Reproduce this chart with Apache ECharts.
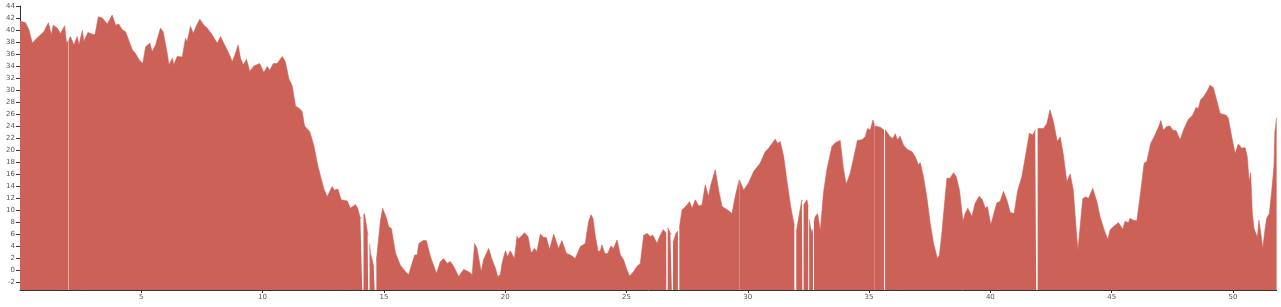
<!DOCTYPE html>
<html>
<head>
<meta charset="utf-8">
<script src="https://cdn.jsdelivr.net/npm/echarts@6/dist/echarts.min.js"></script>
<style>
html,body{margin:0;padding:0;background:#fff;}
#chart{width:1281px;height:307px;}
</style>
</head>
<body>
<div id="chart"></div>
<script>
// x positions (data units) and values; null marks a gap in the data
const xs = [
0.00,0.23,0.37,0.51,0.64,0.85,0.98,1.17,1.29,1.37,1.54,1.67,1.84,1.92,2.00,2.01,2.02,2.08,2.22,2.36,2.43,2.57,2.63,2.80,2.98,3.09,
3.23,3.39,3.60,3.80,3.94,4.07,4.22,4.35,4.63,4.76,4.90,5.06,5.18,5.35,5.45,5.59,5.66,5.79,5.90,6.07,6.14,6.28,6.34,6.48,6.69,
6.82,6.89,7.03,7.14,7.26,7.41,7.58,7.72,7.78,7.92,8.13,8.27,8.40,8.61,8.75,8.88,8.99,9.09,9.20,9.34,9.47,9.64,9.88,10.05,10.19,
10.30,10.44,10.60,10.81,10.94,11.08,11.22,11.36,11.49,11.63,11.73,11.94,12.11,12.27,12.39,12.52,12.66,12.87,12.96,13.10,13.24,
13.49,13.62,13.83,13.92,14.03,14.11,14.13,14.16,14.20,14.33,14.35,14.38,14.41,14.45,14.58,14.62,14.65,14.69,14.86,14.95,15.11,
15.20,15.31,15.48,15.68,15.89,16.02,16.16,16.27,16.37,16.44,16.51,16.62,16.75,16.92,17.17,17.33,17.47,17.61,17.74,17.88,18.08,
18.29,18.50,18.64,18.74,18.84,18.91,19.01,19.11,19.32,19.46,19.60,19.69,19.80,19.87,20.01,20.10,20.21,20.38,20.49,20.56,20.70,
20.80,20.94,21.07,21.20,21.31,21.45,21.59,21.70,21.83,22.00,22.20,22.34,22.52,22.69,22.89,23.10,23.30,23.44,23.54,23.62,23.72,
23.83,23.92,23.99,24.10,24.22,24.36,24.47,24.61,24.75,24.88,25.02,25.13,25.29,25.43,25.57,25.71,25.85,25.98,26.09,26.26,26.37,
26.51,26.64,26.67,26.70,26.81,26.87,26.89,26.92,27.04,27.12,27.15,27.18,27.29,27.49,27.60,27.70,27.84,27.97,28.11,28.25,28.38,
28.48,28.66,28.80,28.94,29.17,29.35,29.48,29.65,29.655,29.66,29.83,30.03,30.24,30.51,30.72,30.86,31.00,31.13,31.24,31.34,31.48,
31.62,31.75,31.86,31.92,31.96,32.00,32.13,32.23,32.25,32.27,32.30,32.44,32.49,32.51,32.53,32.58,32.65,32.69,32.71,32.73,32.78,
32.88,32.99,33.12,33.26,33.47,33.61,33.81,33.95,34.06,34.22,34.36,34.52,34.71,34.84,34.94,35.05,35.16,35.22,35.225,35.23,35.46,
35.62,35.64,35.66,35.74,35.87,35.98,36.08,36.17,36.28,36.42,36.58,36.77,36.90,37.04,37.11,37.24,37.38,37.52,37.66,37.82,37.90,
38.00,38.10,38.21,38.34,38.48,38.59,38.73,38.87,38.96,39.07,39.24,39.37,39.54,39.67,39.79,39.88,40.02,40.13,40.27,40.40,40.54,
40.68,40.82,40.98,41.12,41.30,41.43,41.61,41.75,41.85,41.89,41.92,41.95,42.19,42.33,42.46,42.60,42.76,42.88,43.01,43.15,43.29,
43.42,43.54,43.61,43.70,43.81,43.95,44.04,44.22,44.39,44.52,44.69,44.84,44.94,45.07,45.28,45.46,45.55,45.69,45.76,45.90,46.04,
46.17,46.34,46.45,46.61,46.79,46.97,47.03,47.13,47.27,47.41,47.52,47.66,47.82,47.99,48.16,48.34,48.48,48.57,48.67,48.78,48.92,
49.06,49.19,49.33,49.47,49.72,49.81,49.95,50.09,50.22,50.36,50.50,50.59,50.67,50.73,50.80,50.87,50.95,51.01,51.07,51.15,51.23,
51.32,51.39,51.50,51.59,51.69,51.73,51.77,51.80
];
const values = [
41.5,41.2,40.0,37.8,38.4,39.2,39.7,41.2,39.2,40.8,40.3,39.4,40.7,37.8,38.3,null,38.4,38.9,37.5,38.9,37.5,39.9,38.1,39.6,39.3,39.2,
42.2,42.0,41.0,42.5,40.8,41.0,40.0,39.7,36.7,36.1,35.1,34.4,37.2,37.8,36.4,37.5,37.8,40.3,39.7,36.1,34.2,35.3,34.2,35.6,35.5,
38.6,38.1,40.6,39.4,40.6,41.8,40.8,40.3,40.6,39.2,37.8,38.9,37.8,36.1,34.7,36.1,37.5,35.3,34.2,35.1,33.1,34.0,34.4,32.9,33.9,
33.3,34.4,34.4,35.6,34.7,31.9,30.7,27.3,27.0,26.4,24.0,23.1,20.8,17.5,15.6,13.6,12.2,13.9,13.3,13.5,11.7,
11.5,10.3,10.9,10.3,8.6,8.8,null,9.0,9.4,6.1,5.8,null,4.4,2.8,0.6,0.4,null,1.5,8.3,10.3,8.6,
7.2,6.9,2.8,0.8,-0.3,-0.8,1.1,2.5,2.5,4.4,4.2,4.9,4.9,2.2,-0.6,1.4,1.9,1.1,1.4,0.6,-1.1,
0.1,-0.3,-0.8,4.4,3.6,3.7,-0.3,1.7,3.6,1.7,0.3,-1.1,-0.8,1.1,3.2,2.2,3.2,1.9,5.6,5.2,5.8,
6.2,5.6,2.8,3.6,3.1,6.0,5.4,5.4,3.4,6.0,3.6,4.9,2.8,2.5,1.9,3.9,4.4,8.1,9.2,8.6,5.6,
3.1,3.2,4.2,2.8,2.7,4.0,3.6,5.0,2.5,1.7,0.0,-1.0,-0.3,0.6,1.1,5.8,6.1,5.6,5.8,4.4,5.6,
6.7,6.2,null,7.1,6.1,6.0,null,4.6,6.1,6.5,null,7.0,10.0,10.8,11.4,10.3,11.7,10.7,10.8,14.2,12.2,
14.2,16.7,13.3,10.6,10.0,9.4,12.2,15.1,null,15.0,13.3,14.5,16.4,17.8,19.7,20.3,21.1,21.8,21.1,21.4,18.9,
14.7,11.1,8.6,7.5,null,6.3,9.4,11.7,11.5,null,10.8,11.7,10.5,null,8.5,7.2,6.1,6.8,null,8.0,8.9,
9.4,6.5,12.8,16.7,20.6,21.2,21.6,16.7,14.3,16.1,18.6,21.6,21.7,22.2,23.6,23.3,25.0,24.2,null,24.0,23.8,
23.3,null,23.4,23.4,22.2,21.9,22.7,21.7,22.3,20.8,20.1,19.7,18.9,17.5,17.9,15.6,12.2,7.8,4.4,1.9,2.5,
6.1,10.6,15.3,15.3,16.2,15.6,13.3,8.1,9.4,10.3,8.9,11.1,12.3,11.7,10.3,10.6,7.5,9.2,11.2,11.4,13.1,
11.7,9.6,9.4,13.1,15.6,18.6,22.8,22.5,23.3,23.4,null,23.6,23.6,24.4,26.7,24.7,21.4,22.2,19.2,14.7,16.0,
13.3,6.7,3.3,7.2,11.9,12.2,11.9,13.6,11.4,8.9,6.7,5.1,6.7,7.2,7.9,6.8,8.1,7.9,8.6,8.3,8.2,
12.2,17.8,18.1,21.1,22.5,24.2,24.9,23.3,23.9,24.0,23.3,23.2,21.7,23.6,25.1,25.8,27.1,26.9,28.4,28.8,29.7,
30.8,30.4,28.3,26.1,25.8,25.3,22.2,19.4,21.0,20.3,20.4,18.9,14.7,16.2,9.4,6.9,7.2,5.4,8.3,6.1,3.6,
6.7,8.6,9.4,12.8,17.2,23.1,23.3,25.3
];
const xTicks = [5,10,15,20,25,30,35,40,45,50];
const yTicks = [-2,0,2,4,6,8,10,12,14,16,18,20,22,24,26,28,30,32,34,36,38,40,42,44];

const seriesData = xs.map((x, i) => [x, values[i] === null ? null : values[i]]);

const chart = echarts.init(document.getElementById('chart'), null, {renderer: 'canvas'});
const labelStyle = {fontSize: 7, color: '#555', fontFamily: 'DejaVu Sans, sans-serif'};
chart.setOption({
  animation: false,
  grid: {left: 20, right: 4.4, top: 6, bottom: 17, containLabel: false},
  xAxis: {
    type: 'value', min: 0, max: 51.8,
    axisLine: {show: true, onZero: false, lineStyle: {color: '#333', width: 1}},
    axisTick: {show: true, length: 3, customValues: xTicks, lineStyle: {color: '#333'}},
    axisLabel: Object.assign({margin: 4, customValues: xTicks}, labelStyle),
    splitLine: {show: false}
  },
  yAxis: {
    type: 'value', min: -3.33, max: 44,
    axisLine: {show: true, onZero: false, lineStyle: {color: '#333', width: 1}},
    axisTick: {show: true, length: 4, customValues: yTicks, lineStyle: {color: '#333'}},
    axisLabel: Object.assign({margin: 5, customValues: yTicks}, labelStyle),
    splitLine: {show: false}
  },
  series: [{
    type: 'line',
    data: seriesData,
    symbol: 'none',
    connectNulls: false,
    lineStyle: {color: '#cc6157', width: 0.6},
    areaStyle: {color: '#cc6157', opacity: 1, origin: 'start'},
    z: 1
  }]
});
</script>
</body>
</html>
